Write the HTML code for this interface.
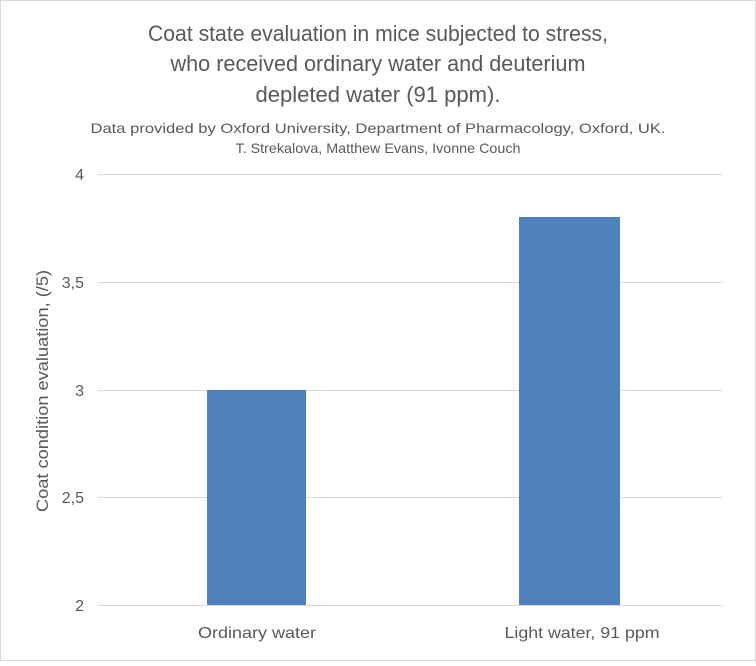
<!DOCTYPE html>
<html><head><meta charset="utf-8"><style>
body{margin:0;background:#fff;}
svg text{font-family:"Liberation Sans",sans-serif;fill:#595959;}
</style></head><body>
<svg width="756" height="661" xmlns="http://www.w3.org/2000/svg">
<rect x="0.5" y="0.5" width="755" height="660" fill="#fff" stroke="#d9d9d9"/>
<g text-anchor="middle">
<text x="378" y="41" font-size="22" textLength="460" lengthAdjust="spacingAndGlyphs">Coat state evaluation in mice subjected to stress,</text>
<text x="378" y="71" font-size="22" textLength="415" lengthAdjust="spacingAndGlyphs">who received ordinary water and deuterium</text>
<text x="378" y="102" font-size="22" textLength="245" lengthAdjust="spacingAndGlyphs">depleted water (91 ppm).</text>
<text x="378" y="133" font-size="14" textLength="575" lengthAdjust="spacingAndGlyphs">Data provided by Oxford University, Department of Pharmacology, Oxford, UK.</text>
<text x="378" y="153" font-size="14" textLength="285" lengthAdjust="spacingAndGlyphs">T. Strekalova, Matthew Evans, Ivonne Couch</text>
</g>
<g stroke="#d9d9d9" stroke-width="1">
<line x1="98" y1="174.5" x2="722" y2="174.5"/>
<line x1="98" y1="282.5" x2="722" y2="282.5"/>
<line x1="98" y1="390.5" x2="722" y2="390.5"/>
<line x1="98" y1="497.5" x2="722" y2="497.5"/>
<line x1="98" y1="605.5" x2="722" y2="605.5"/>
</g>
<rect x="207" y="390" width="99" height="215" fill="#4f81bd"/>
<rect x="519" y="217" width="101" height="388" fill="#4f81bd"/>
<g font-size="16" text-anchor="end">
<text x="84" y="180">4</text>
<text x="84" y="288">3,5</text>
<text x="84" y="396">3</text>
<text x="84" y="503">2,5</text>
<text x="84" y="611">2</text>
</g>
<g font-size="16" text-anchor="middle">
<text x="257" y="638" textLength="118" lengthAdjust="spacingAndGlyphs">Ordinary water</text>
<text x="582" y="638" textLength="155" lengthAdjust="spacingAndGlyphs">Light water, 91 ppm</text>
<text transform="translate(48,391) rotate(-90)" font-size="17" textLength="242" lengthAdjust="spacingAndGlyphs">Coat condition evaluation, (/5)</text>
</g>
</svg>
</body></html>
